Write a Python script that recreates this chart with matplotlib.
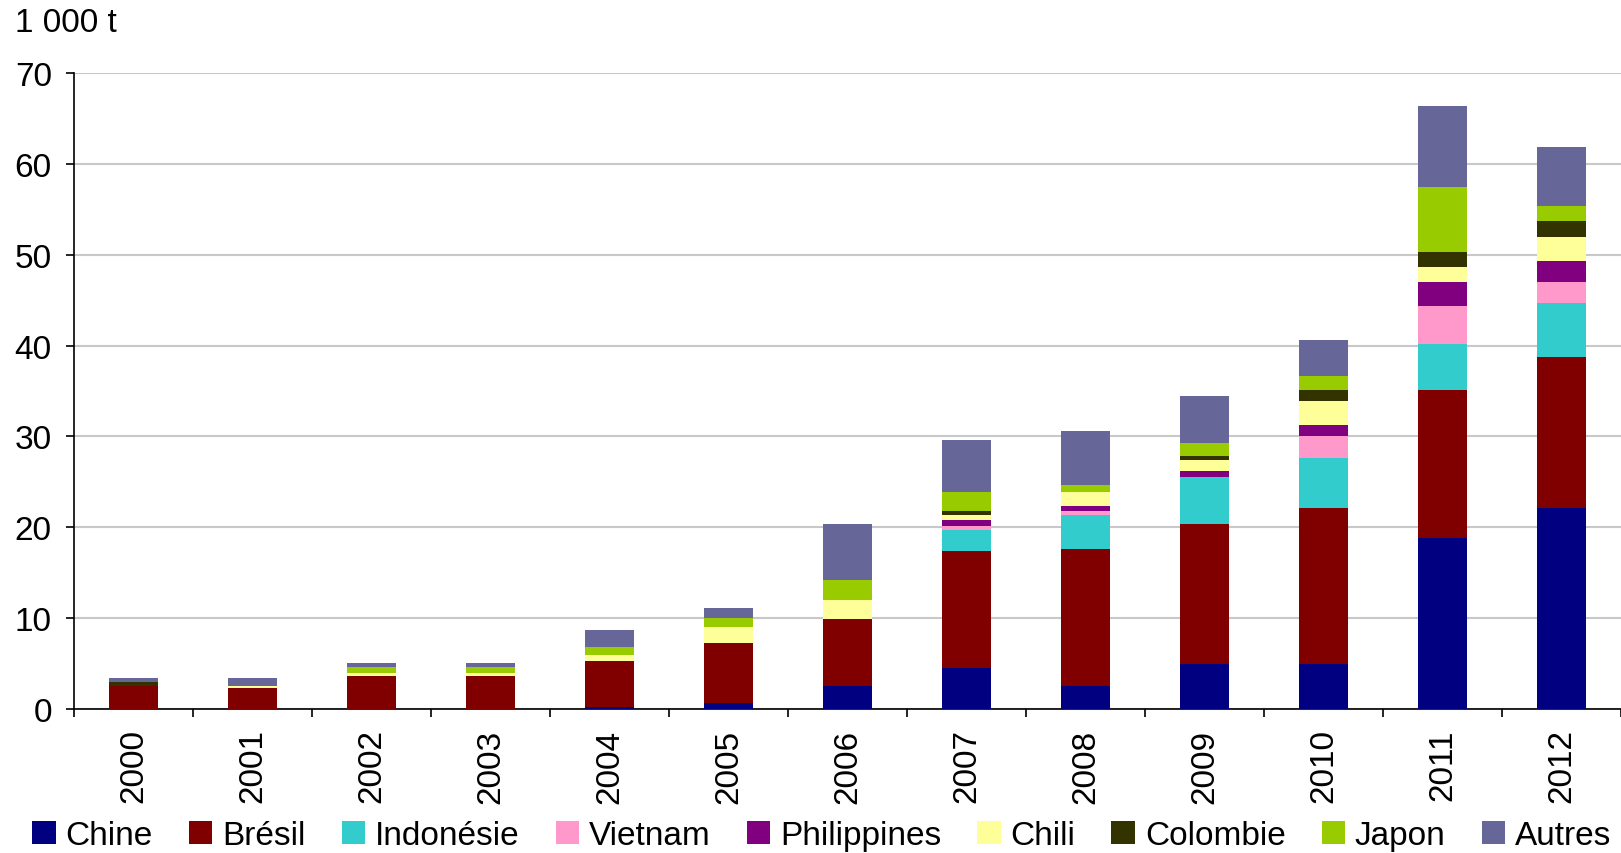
import matplotlib
matplotlib.use('Agg')
import matplotlib.pyplot as plt
import numpy as np

plt.rcParams['font.family'] = ['Liberation Sans', 'DejaVu Sans']

years = ['2000', '2001', '2002', '2003', '2004', '2005', '2006',
         '2007', '2008', '2009', '2010', '2011', '2012']
countries = ['Chine', 'Brésil', 'Indonésie', 'Vietnam', 'Philippines',
             'Chili', 'Colombie', 'Japon', 'Autres']
colors = ['#000080', '#800000', '#33CCCC', '#FF99CC', '#800080',
          '#FFFF99', '#333300', '#99CC00', '#666699']

# 1 000 t
chine = [0, 0, 0, 0, 0.25, 0.7, 2.5, 4.5, 2.5, 4.9, 4.9, 18.8, 22.1]
bresil = [2.55, 2.3, 3.6, 3.6, 5.05, 6.55, 7.4, 12.9, 15.1, 15.5, 17.2, 16.3, 16.7]
indonesie = [0, 0, 0, 0, 0, 0, 0, 2.3, 3.8, 5.1, 5.5, 5.1, 5.9]
vietnam = [0, 0, 0, 0, 0, 0, 0, 0.4, 0.4, 0, 2.5, 4.2, 2.3]
philippines = [0, 0, 0, 0, 0, 0, 0, 0.7, 0.5, 0.7, 1.2, 2.6, 2.3]
chili = [0, 0.25, 0.4, 0.4, 0.7, 1.75, 2.1, 0.6, 1.6, 1.2, 2.6, 1.7, 2.6]
colombie = [0.45, 0, 0, 0, 0, 0, 0, 0.4, 0, 0.5, 1.2, 1.6, 1.8]
japon = [0, 0, 0.6, 0.6, 0.8, 1.0, 2.2, 2.1, 0.8, 1.4, 1.5, 7.2, 1.7]
autres = [0.4, 0.85, 0.45, 0.45, 1.95, 1.1, 6.2, 5.7, 5.9, 5.2, 4.0, 8.9, 6.5]

series = [chine, bresil, indonesie, vietnam, philippines, chili, colombie, japon, autres]

fig = plt.figure(figsize=(16.21, 8.54), dpi=100)
ax = fig.add_axes([0.0457, 0.1686, 0.9543, 0.7447])

x = np.arange(len(years))
bottom = np.zeros(len(years))
for name, vals, c in zip(countries, series, colors):
    ax.bar(x, vals, width=0.41, bottom=bottom, color=c, label=name, zorder=3)
    bottom += np.array(vals)

ax.set_ylim(0, 70)
ax.set_xlim(-0.5, len(years) - 0.5)
ax.set_yticks(range(0, 71, 10))
ax.yaxis.grid(True, color='#c8c8c8', lw=1.5, zorder=0)
ax.set_axisbelow(True)
for s in ['top', 'right']:
    ax.spines[s].set_visible(False)
ax.spines['left'].set_linewidth(1.2)
ax.spines['bottom'].set_linewidth(1.2)

ax.set_xticks(x)
ax.set_xticklabels(years, rotation=90, fontsize=24)
ax.set_xticks(np.arange(-0.5, len(years)), minor=True)
ax.tick_params(axis='x', which='major', length=0, pad=14)
ax.tick_params(axis='x', which='minor', length=6, width=1.2)
ax.tick_params(axis='y', labelsize=24, length=6, width=1.2, pad=10)

fig.text(0.009, 0.972, '1 000 t', fontsize=24, va='center', ha='left')

fig.legend(loc='center', bbox_to_anchor=(0.507, 0.02), ncol=9, frameon=False,
           fontsize=24, handlelength=0.7, handleheight=0.7, handletextpad=0.3,
           columnspacing=1.08, borderaxespad=0, borderpad=0)

fig.savefig('out.png', dpi=100)
